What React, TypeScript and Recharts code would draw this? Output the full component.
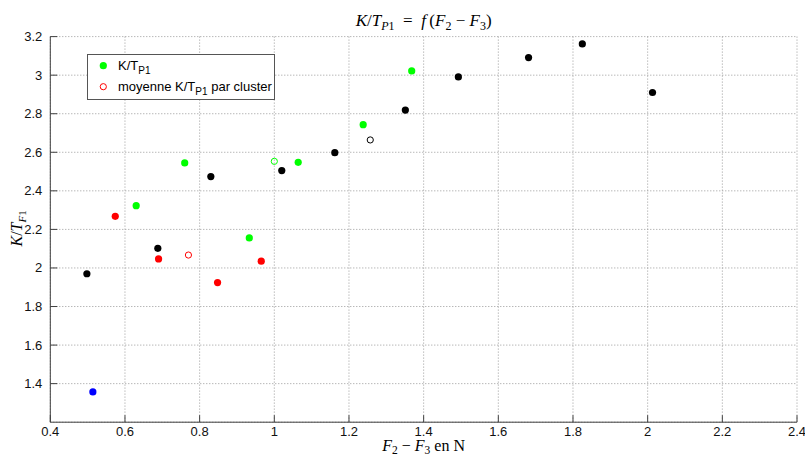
import React from "react";
import {
  ScatterChart,
  Scatter,
  XAxis,
  YAxis,
  CartesianGrid,
  Customized,
} from "recharts";

// ---- data ----
const greenX = [0.63, 0.76, 0.933, 1.064, 1.238, 1.368];
const greenY = [2.323, 2.545, 2.156, 2.548, 2.743, 3.022];
const greenMeanX = [1.0];
const greenMeanY = [2.553];

const redX = [0.574, 0.69, 0.848, 0.965];
const redY = [2.268, 2.047, 1.924, 2.035];
const redMeanX = [0.77];
const redMeanY = [2.067];

const blackX = [0.498, 0.688, 0.83, 1.02, 1.162, 1.351, 1.493, 1.681, 1.825, 2.013];
const blackY = [1.97, 2.102, 2.474, 2.505, 2.598, 2.819, 2.991, 3.091, 3.162, 2.91];
const blackMeanX = [1.257];
const blackMeanY = [2.664];

const blueX = [0.514];
const blueY = [1.357];

const xTicks = [0.4, 0.6, 0.8, 1.0, 1.2, 1.4, 1.6, 1.8, 2.0, 2.2, 2.4];
const xTickLabels = ["0.4", "0.6", "0.8", "1", "1.2", "1.4", "1.6", "1.8", "2", "2.2", "2.4"];
const yTicks = [1.4, 1.6, 1.8, 2.0, 2.2, 2.4, 2.6, 2.8, 3.0, 3.2];
const yTickLabels = ["1.4", "1.6", "1.8", "2", "2.2", "2.4", "2.6", "2.8", "3", "3.2"];

const legendLabels = ["K/T", "moyenne K/T"];

const toPoints = (xs: number[], ys: number[]) => xs.map((x, i) => ({ x, y: ys[i] }));

// ---- layout ----
const W = 805;
const H = 455;
const PLOT_LEFT = 50.3;
const PLOT_RIGHT = 797;
const PLOT_TOP = 36.6;
const PLOT_BOTTOM = 422.2;
const TICK_LEN = 7;
const AXIS_COLOR = "#404040";
const SANS = "'Liberation Sans', Arial, sans-serif";
const SERIF = "'Liberation Serif', 'Times New Roman', serif";

const filledDot = (color: string) => (props: any) => (
  <circle cx={props.cx} cy={props.cy} r={3.6} fill={color} />
);
const openDot = (color: string) => (props: any) => (
  <circle cx={props.cx} cy={props.cy} r={3.1} fill="none" stroke={color} strokeWidth={1} />
);

const XTick = (props: any) => {
  const { x, y, payload } = props;
  const idx = xTicks.findIndex((t) => Math.abs(t - payload.value) < 1e-9);
  return (
    <g>
      <line x1={x} x2={x} y1={y} y2={y - TICK_LEN} stroke={AXIS_COLOR} strokeWidth={1} />
      <text x={x} y={y + 13.5} textAnchor="middle" fontFamily={SANS} fontSize={13} fill="#111">
        {idx >= 0 ? xTickLabels[idx] : ""}
      </text>
    </g>
  );
};

const YTick = (props: any) => {
  const { x, y, payload } = props;
  const idx = yTicks.findIndex((t) => Math.abs(t - payload.value) < 1e-9);
  return (
    <g>
      <line x1={x} x2={x + TICK_LEN} y1={y} y2={y} stroke={AXIS_COLOR} strokeWidth={1} />
      <text x={x - 8} y={y + 4.5} textAnchor="end" fontFamily={SANS} fontSize={13} fill="#111">
        {idx >= 0 ? yTickLabels[idx] : ""}
      </text>
    </g>
  );
};

const Decorations = () => {
  const cx = (PLOT_LEFT + PLOT_RIGHT) / 2;
  const cy = (PLOT_TOP + PLOT_BOTTOM) / 2;
  return (
    <g>
      {/* title */}
      <text x={cx} y={26} textAnchor="middle" fontFamily={SERIF} fontSize={17} fill="#000">
        <tspan fontStyle="italic">K</tspan>
        <tspan>/</tspan>
        <tspan fontStyle="italic">T</tspan>
        <tspan fontStyle="italic" fontSize={12} dy={4}>P</tspan>
        <tspan fontSize={12}>1</tspan>
        <tspan dy={-4}>{"\u2002=\u2002"}</tspan>
        <tspan fontStyle="italic">f</tspan>
        <tspan>{"\u2009("}</tspan>
        <tspan fontStyle="italic">F</tspan>
        <tspan fontSize={12} dy={4}>2</tspan>
        <tspan dy={-4}>{"\u2005−\u2005"}</tspan>
        <tspan fontStyle="italic">F</tspan>
        <tspan fontSize={12} dy={4}>3</tspan>
        <tspan dy={-4}>)</tspan>
      </text>
      {/* x label */}
      <text x={cx} y={451} textAnchor="middle" fontFamily={SERIF} fontSize={16} fill="#000">
        <tspan fontStyle="italic">F</tspan>
        <tspan fontSize={11.5} dy={3}>2</tspan>
        <tspan dy={-3}>{"\u2005−\u2005"}</tspan>
        <tspan fontStyle="italic">F</tspan>
        <tspan fontSize={11.5} dy={3}>3</tspan>
        <tspan dy={-3}>{"\u2005en N"}</tspan>
      </text>
      {/* y label */}
      <text
        x={0}
        y={0}
        transform={`translate(22, ${cy - 1}) rotate(-90)`}
        textAnchor="middle"
        fontFamily={SERIF}
        fontSize={16}
        fill="#000"
      >
        <tspan fontStyle="italic">K</tspan>
        <tspan>/</tspan>
        <tspan fontStyle="italic">T</tspan>
        <tspan fontStyle="italic" fontSize={11} dy={3.5}>F</tspan>
        <tspan fontSize={11}>1</tspan>
      </text>
      {/* legend */}
      <rect x={87.5} y={54.5} width={187} height={45} fill="#fff" stroke="#555" strokeWidth={1} />
      <circle cx={103.3} cy={65.7} r={3.6} fill="#00ff00" />
      <text x={118} y={69.5} fontFamily={SANS} fontSize={13} fill="#000">
        <tspan>{legendLabels[0]}</tspan>
        <tspan fontSize={10} dy={4}>P1</tspan>
      </text>
      <circle cx={103.3} cy={86.7} r={3.1} fill="none" stroke="#ff0000" strokeWidth={1} />
      <text x={118} y={90.5} fontFamily={SANS} fontSize={13} fill="#000">
        <tspan>{legendLabels[1]}</tspan>
        <tspan fontSize={10} dy={4}>P1</tspan>
        <tspan dy={-4}> par cluster</tspan>
      </text>
    </g>
  );
};

export default function App() {
  return (
    <div style={{ position: "absolute", left: 0, top: 0, width: W, height: H, background: "#fff" }}>
      <ScatterChart
        width={W}
        height={H}
        margin={{ top: PLOT_TOP, right: W - PLOT_RIGHT, bottom: 0, left: 0 }}
      >
        <CartesianGrid stroke="#999" strokeDasharray="1 2" />
        <XAxis
          type="number"
          dataKey="x"
          domain={[0.4, 2.4]}
          ticks={xTicks}
          interval={0}
          height={H - PLOT_BOTTOM}
          tickSize={0}
          tickMargin={0}
          tickLine={false}
          axisLine={{ stroke: AXIS_COLOR, strokeWidth: 1 }}
          tick={<XTick />}
          allowDataOverflow
        />
        <YAxis
          type="number"
          dataKey="y"
          domain={[1.2, 3.2]}
          ticks={yTicks}
          interval={0}
          width={PLOT_LEFT}
          tickSize={0}
          tickMargin={0}
          tickLine={false}
          axisLine={{ stroke: AXIS_COLOR, strokeWidth: 1 }}
          tick={<YTick />}
          allowDataOverflow
        />
        <Scatter data={toPoints(blackX, blackY)} shape={filledDot("#000000")} isAnimationActive={false} />
        <Scatter data={toPoints(blackMeanX, blackMeanY)} shape={openDot("#000000")} isAnimationActive={false} />
        <Scatter data={toPoints(redX, redY)} shape={filledDot("#ff0000")} isAnimationActive={false} />
        <Scatter data={toPoints(redMeanX, redMeanY)} shape={openDot("#ff0000")} isAnimationActive={false} />
        <Scatter data={toPoints(greenX, greenY)} shape={filledDot("#00ff00")} isAnimationActive={false} />
        <Scatter data={toPoints(greenMeanX, greenMeanY)} shape={openDot("#00ff00")} isAnimationActive={false} />
        <Scatter data={toPoints(blueX, blueY)} shape={filledDot("#0000ff")} isAnimationActive={false} />
        <Customized component={Decorations} />
      </ScatterChart>
    </div>
  );
}
